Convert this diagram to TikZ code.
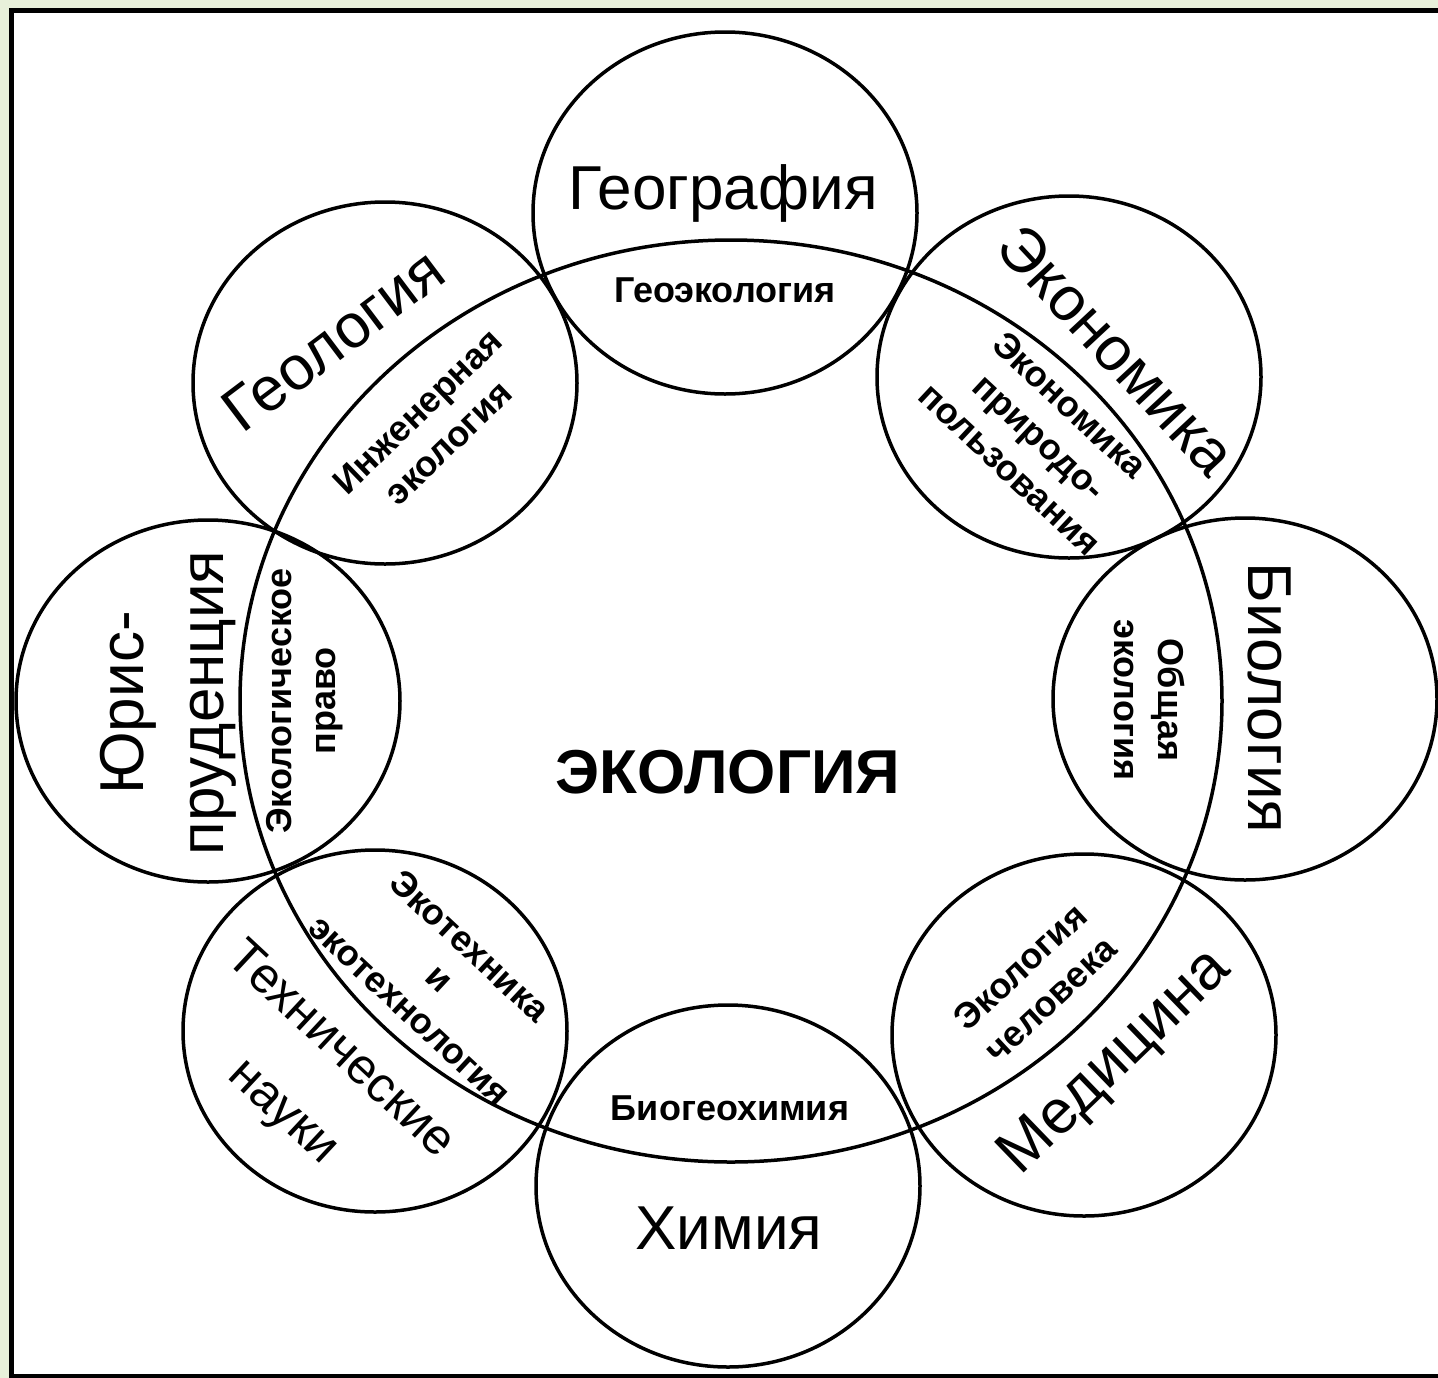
\documentclass[tikz,border=0pt]{standalone}
\usepackage{fontspec}
\setmainfont{Liberation Sans}
\definecolor{slidegreen}{RGB}{232,240,218}

\begin{document}
\begin{tikzpicture}[x=1pt, y=-1pt, line width=3.5pt,
	big/.style={font=\fontsize{62}{80}\selectfont, align=center, inner sep=0pt},
	small/.style={font=\bfseries\fontsize{36}{44}\selectfont, align=center, inner sep=0pt}]

	\useasboundingbox (0, 0) rectangle (1438, 1377);

	% center x of the small circles
	\def\posx{{725, 1069, 1245, 1084, 728, 375, 208, 385}}

	% center y of the small circles
	\def\posy{{213, 377, 699, 1035, 1186, 1031, 701, 383}}

	% frame
	\fill[slidegreen] (0, 0) rectangle (1442, 1381);
	\fill[white] (9, 8) rectangle (1442, 1381);
	\fill[black] (9, 8) rectangle (14, 1381);
	\fill[black] (9, 8) rectangle (1442, 13);
	\fill[black] (9, 1374) rectangle (1442, 1381);

	% big ring
	\draw (731, 701) ellipse [x radius=491pt, y radius=461pt];

	% small circles
	\foreach \i in {0, ..., 7} {
		\pgfmathsetmacro{\cx}{\posx[\i]}
		\pgfmathsetmacro{\cy}{\posy[\i]}
		\draw (\cx, \cy) ellipse [x radius=192pt, y radius=181pt];
	}

	% sciences
	\foreach \name/\x/\y/\r/\txt in {
		geography/723/193/0/География,
		geology/333/340/37/Геология,
		economics/1117/350/-47/Экономика,
		biology/1270/698/-90/Биология,
		medicine/1116/1063/44/Медицина,
		chemistry/729/1228/0/Химия,
		law/168/703/90/Юрис-\\пруденция
	} {
		\node[big, rotate=\r] (\name) at (\x, \y) {\txt};
	}
	\node[big, font=\fontsize{50}{84}\selectfont, rotate=-43] (technics) at (311, 1082) {Технические\\науки};

	% overlaps
	\foreach \name/\x/\y/\r/\txt in {
		geoecology/725/290/0/Геоэкология,
		engineering/433/427/44/Инженерная\\экология,
		nature/1040/437/-43/Экономика\\природо-\\пользования,
		general/1150/700/-90/Общая\\экология,
		human/1035/983/43/Экология\\человека,
		biogeochem/730/1108/0/Биогеохимия,
		ecotech/440/978/-43/Экотехника\\и\\экотехнология,
		ecolaw/305/701/90/Экологическое\\право
	} {
		\node[small, rotate=\r] (\name) at (\x, \y) {\txt};
	}

	% center
	\node[font=\bfseries\fontsize{62}{72}\selectfont] (ecology) at (728, 772) {ЭКОЛОГИЯ};
\end{tikzpicture}
\end{document}
